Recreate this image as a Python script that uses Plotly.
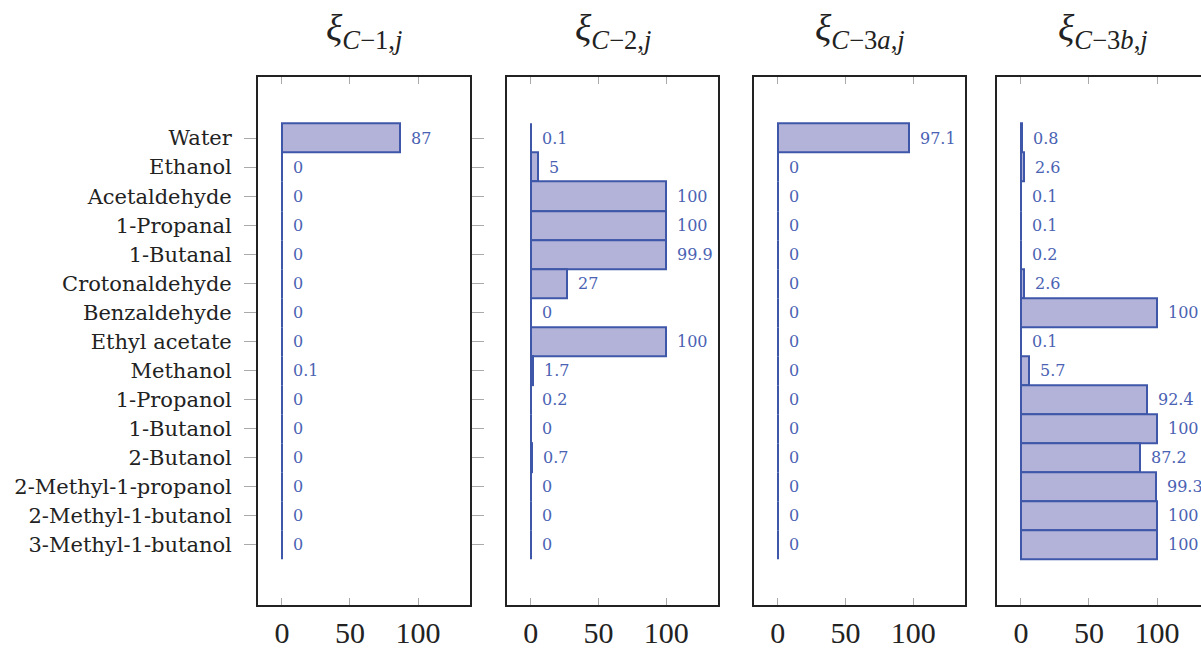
import plotly.graph_objects as go

categories = ["Water", "Ethanol", "Acetaldehyde", "1-Propanal", "1-Butanal",
              "Crotonaldehyde", "Benzaldehyde", "Ethyl acetate", "Methanol",
              "1-Propanol", "1-Butanol", "2-Butanol", "2-Methyl-1-propanol",
              "2-Methyl-1-butanol", "3-Methyl-1-butanol"]

xi_C1 = [87, 0, 0, 0, 0, 0, 0, 0, 0.1, 0, 0, 0, 0, 0, 0]
xi_C2 = [0.1, 5, 100, 100, 99.9, 27, 0, 100, 1.7, 0.2, 0, 0.7, 0, 0, 0]
xi_C3a = [97.1, 0, 0, 0, 0, 0, 0, 0, 0, 0, 0, 0, 0, 0, 0]
xi_C3b = [0.8, 2.6, 0.1, 0.1, 0.2, 2.6, 100, 0.1, 5.7, 92.4, 100, 87.2, 99.3, 100, 100]

panel_titles = ["<i>ξ</i><sub><i>C</i>−1,<i>j</i></sub>",
                "<i>ξ</i><sub><i>C</i>−2,<i>j</i></sub>",
                "<i>ξ</i><sub><i>C</i>−3<i>a</i>,<i>j</i></sub>",
                "<i>ξ</i><sub><i>C</i>−3<i>b</i>,<i>j</i></sub>"]
series = [xi_C1, xi_C2, xi_C3a, xi_C3b]
x_ticks = [0, 50, 100]

W, H = 1201, 649
FONT = "Liberation Serif"
FONT_W = "DejaVu Serif"
BAR_FILL = "#b3b3d9"
BAR_LINE = "#3f57a8"
LABEL_COL = "#4a62b3"

# panel pixel extents (the last panel runs past the right edge of the picture)
px_domains = [(258, 470), (507, 718), (754, 965), (997, 1209)]
y_dom = [1 - 612 / H, 1 - 78 / H]
X_MIN, X_MAX = -17.6, 138.2

fig = go.Figure()
annotations = []
for i, (vals, title) in enumerate(zip(series, panel_titles)):
    n = i + 1
    xa = "x" if n == 1 else f"x{n}"
    ya = "y" if n == 1 else f"y{n}"
    fig.add_trace(go.Bar(
        x=vals, y=categories, orientation="h", width=1.0,
        marker=dict(color=BAR_FILL, line=dict(color=BAR_LINE, width=2)),
        xaxis=xa, yaxis=ya, showlegend=False, hoverinfo="x+y",
    ))
    for c, v in zip(categories, vals):
        annotations.append(dict(
            x=v, y=c, xref=xa, yref=ya, text=f"{v:g}", showarrow=False,
            xanchor="left", yanchor="middle", xshift=9,
            font=dict(family=FONT_W, size=16, color=LABEL_COL),
        ))
    d0, d1 = px_domains[i]
    x_hi = X_MAX
    if d1 > W:
        x_hi = X_MIN + (X_MAX - X_MIN) * (W - d0) / (d1 - d0)
        d1 = W
    annotations.append(dict(
        x=(px_domains[i][0] + px_domains[i][1]) / 2 / W, y=1 - 31 / H,
        xref="paper", yref="paper",
        text=title, showarrow=False, xanchor="center", yanchor="middle",
        font=dict(family=FONT, size=38, color="#222"),
    ))
    xkey = "xaxis" if n == 1 else f"xaxis{n}"
    ykey = "yaxis" if n == 1 else f"yaxis{n}"
    fig.update_layout({
        xkey: dict(
            domain=[d0 / W, d1 / W], anchor=ya, range=[X_MIN, x_hi],
            tickvals=x_ticks, ticktext=[str(t) for t in x_ticks],
            ticks="inside", ticklen=7, tickwidth=1, tickcolor="#aaaaaa",
            showline=True, linecolor="#222222", linewidth=2, mirror="ticks",
            showgrid=False, zeroline=False,
            tickfont=dict(family=FONT, size=30, color="#222"),
        ),
        ykey: dict(
            domain=y_dom, anchor=xa, type="category",
            categoryorder="array", categoryarray=categories,
            range=[16.1, -2.1],
            showline=True, linecolor="#222222", linewidth=2,
            mirror=("ticks" if n == 1 else (False if n == 4 else True)),
            ticks="outside" if n == 1 else "", ticklen=12, tickwidth=1,
            tickcolor="#aaaaaa", showticklabels=(n == 1),
            ticklabelstandoff=8,
            showgrid=False, zeroline=False,
            tickfont=dict(family=FONT_W, size=21, color="#222"),
        ),
    })

fig.update_layout(
    width=W, height=H, margin=dict(l=0, r=0, t=0, b=0),
    paper_bgcolor="white", plot_bgcolor="white",
    annotations=annotations, bargap=0,
)

fig.write_html("out.html", config={"displayModeBar": False}, post_script=(
    "var hs=document.documentElement.style;hs.overflow='hidden';hs.height='649px';"
    "var bs=document.body.style;bs.margin='0';bs.padding='0';bs.overflow='hidden';bs.height='649px';"
))
